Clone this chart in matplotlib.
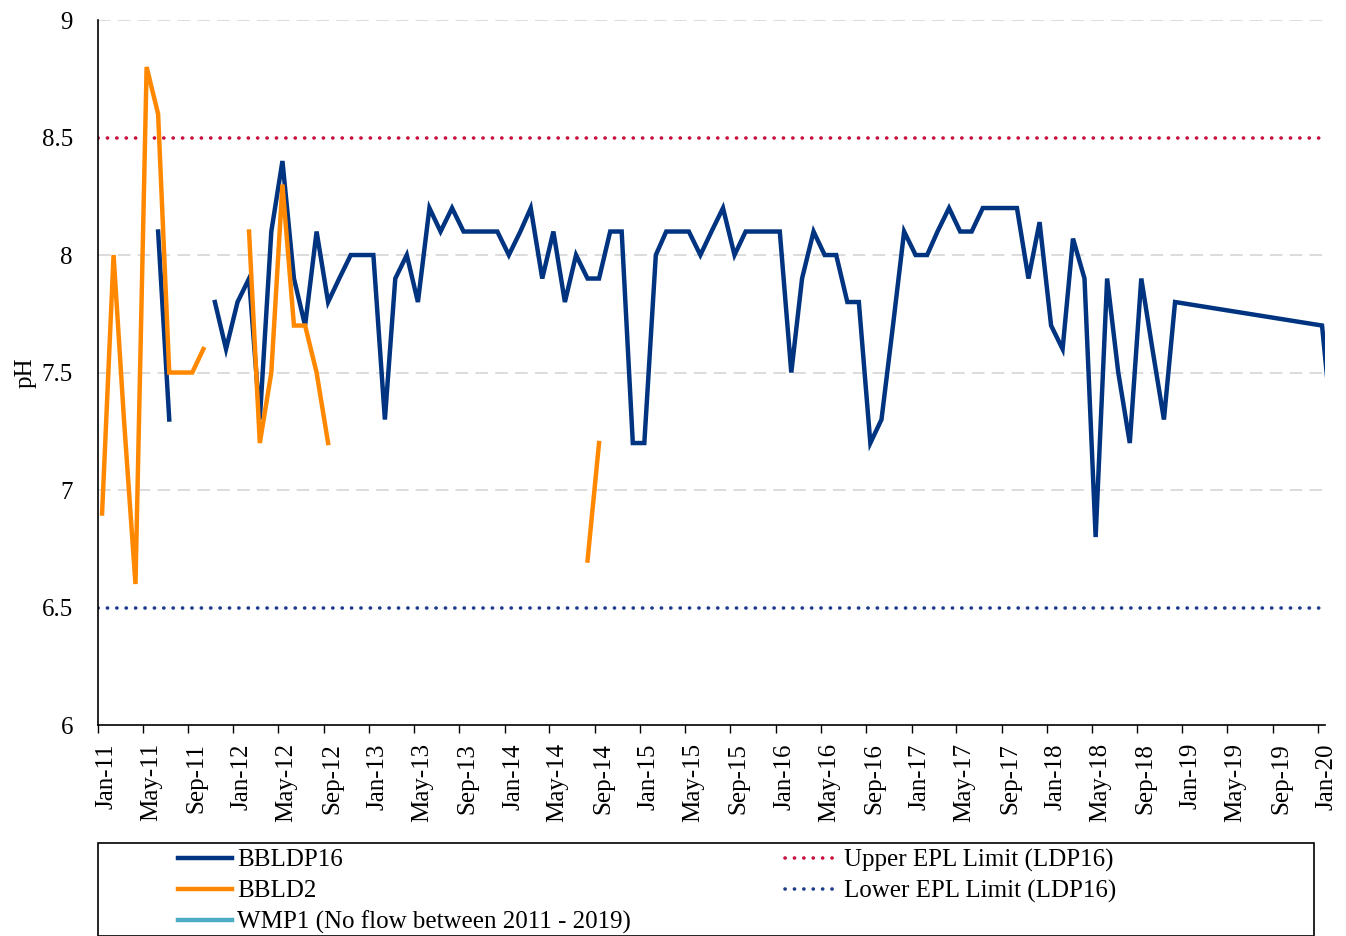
import numpy as np
import pandas as pd
import matplotlib
matplotlib.use("Agg")
import matplotlib.pyplot as plt
import matplotlib.dates as mdates
from matplotlib.patches import Rectangle
from matplotlib.transforms import ScaledTranslation

plt.rcParams['font.family'] = ['Liberation Serif', 'DejaVu Serif']

# monthly pH samples (sampled around the 12th of each month)
bbldp16_months = ['2011-06', '2011-07', '2011-08', '2011-09', '2011-10', '2011-11', '2011-12',
                  '2012-01', '2012-02', '2012-03', '2012-04', '2012-05', '2012-06', '2012-07', '2012-08',
                  '2012-09', '2012-10', '2012-11', '2012-12',
                  '2013-01', '2013-02', '2013-03', '2013-04', '2013-05', '2013-06', '2013-07', '2013-08',
                  '2013-09', '2013-10', '2013-11', '2013-12',
                  '2014-01', '2014-02', '2014-03', '2014-04', '2014-05', '2014-06', '2014-07', '2014-08',
                  '2014-09', '2014-10', '2014-11', '2014-12',
                  '2015-01', '2015-02', '2015-03', '2015-04', '2015-05', '2015-06', '2015-07', '2015-08',
                  '2015-09', '2015-10', '2015-11', '2015-12',
                  '2016-01', '2016-02', '2016-03', '2016-04', '2016-05', '2016-06', '2016-07', '2016-08',
                  '2016-09', '2016-10', '2016-11', '2016-12',
                  '2017-01', '2017-02', '2017-03', '2017-04', '2017-05', '2017-06', '2017-07', '2017-08',
                  '2017-09', '2017-10', '2017-11', '2017-12',
                  '2018-01', '2018-02', '2018-03', '2018-04', '2018-05', '2018-06', '2018-07', '2018-08',
                  '2018-09', '2018-10', '2018-11', '2018-12',
                  '2020-01', '2020-02']
bbldp16_ph = [8.1, 7.3, np.nan, np.nan, np.nan, 7.8, 7.6,
              7.8, 7.9, 7.3, 8.1, 8.4, 7.9, 7.7, 8.1,
              7.8, 7.9, 8.0, 8.0,
              8.0, 7.3, 7.9, 8.0, 7.8, 8.2, 8.1, 8.2,
              8.1, 8.1, 8.1, 8.1,
              8.0, 8.1, 8.2, 7.9, 8.1, 7.8, 8.0, 7.9,
              7.9, 8.1, 8.1, 7.2,
              7.2, 8.0, 8.1, 8.1, 8.1, 8.0, 8.1, 8.2,
              8.0, 8.1, 8.1, 8.1,
              8.1, 7.5, 7.9, 8.1, 8.0, 8.0, 7.8, 7.8,
              7.2, 7.3, 7.7, 8.1,
              8.0, 8.0, 8.1, 8.2, 8.1, 8.1, 8.2, 8.2,
              8.2, 8.2, 7.9, 8.14,
              7.7, 7.6, 8.07, 7.9, 6.8, 7.9, 7.5, 7.2,
              7.9, 7.6, 7.3, 7.8,
              7.7, 7.2]

bbld2_months = ['2011-01', '2011-02', '2011-03', '2011-04', '2011-05', '2011-06', '2011-07', '2011-08',
                '2011-09', '2011-10', '2011-11',
                '2012-02', '2012-03', '2012-04', '2012-05', '2012-06', '2012-07', '2012-08', '2012-09',
                '2012-10',
                '2014-08', '2014-09']
bbld2_ph = [6.9, 8.0, 7.3, 6.6, 8.8, 8.6, 7.5, 7.5,
            7.5, 7.6, np.nan,
            8.1, 7.2, 7.5, 8.3, 7.7, 7.7, 7.5, 7.2,
            np.nan,
            6.7, 7.2]

upper_limit = 8.5
lower_limit = 6.5

c_blue = '#003380'
c_orange = '#FF8800'
c_light = '#4BACC6'
c_red = '#C8103C'
c_navy = '#1F3C8C'

d1 = pd.to_datetime(bbldp16_months) + pd.Timedelta(days=11)
d2 = pd.to_datetime(bbld2_months) + pd.Timedelta(days=11)
xmin = pd.Timestamp('2011-01-01')
xmax = pd.Timestamp('2020-01-20')

fig = plt.figure(figsize=(13.46, 9.36), dpi=100)
ax = fig.add_axes([0.0728, 0.2254, 0.9116, 0.7532])

for v in [7.0, 7.5, 8.0, 9.0]:
    ax.axhline(v, color='#D9D9D9', lw=1.3, ls=(0, (7, 4)), zorder=0)

dots = (0, (0.05, 2.55))
l_up = ax.axhline(upper_limit, color=c_red, lw=2.6, ls=dots, dash_capstyle='round', zorder=1)
l_lo = ax.axhline(lower_limit, color=c_navy, lw=2.6, ls=dots, dash_capstyle='round', zorder=1)

l1, = ax.plot(d1, bbldp16_ph, color=c_blue, lw=3.2, solid_joinstyle='miter', zorder=3)
l2, = ax.plot(d2, bbld2_ph, color=c_orange, lw=3.2, solid_joinstyle='miter', zorder=4)
l3, = ax.plot([], [], color=c_light, lw=3.2)

ax.set_xlim(xmin, xmax)
ax.set_ylim(6, 9)
ax.set_yticks([6, 6.5, 7, 7.5, 8, 8.5, 9])
ax.set_yticklabels(['6', '6.5', '7', '7.5', '8', '8.5', '9'])
ax.xaxis.set_major_locator(mdates.MonthLocator(bymonth=[1, 5, 9]))
ax.xaxis.set_major_formatter(mdates.DateFormatter('%b-%y'))
ax.tick_params(axis='x', labelsize=18, rotation=90, length=6, width=1, direction='out', pad=7)
ax.tick_params(axis='y', labelsize=18, length=0, pad=18)
ax.set_ylabel('pH', fontsize=18, labelpad=4)

# shift rotated labels a little to the right like the original
shift = ScaledTranslation(6 / 72, 0, fig.dpi_scale_trans)
for lab in ax.get_xticklabels():
    lab.set_transform(lab.get_transform() + shift)

for s in ['top', 'right']:
    ax.spines[s].set_visible(False)
for s in ['left', 'bottom']:
    ax.spines[s].set_linewidth(1.2)

# legend box
fig.patches.append(Rectangle((98 / 1346, 0.0), (1314 - 98) / 1346, (936 - 843) / 936,
                             transform=fig.transFigure, fill=False, edgecolor='black', lw=1.2))

leg_kw = dict(frameon=False, fontsize=18, handlelength=2.15, handletextpad=0.2,
              labelspacing=0.33, borderpad=0, borderaxespad=0, loc='upper left')
fig.legend([l1, l2, l3], ['BBLDP16', 'BBLD2', 'WMP1 (No flow between 2011 - 2019)'],
           bbox_to_anchor=(178 / 1346, 1 - 849 / 936), **leg_kw)
fig.legend([l_up, l_lo], ['Upper EPL Limit (LDP16)', 'Lower EPL Limit (LDP16)'],
           bbox_to_anchor=(785 / 1346, 1 - 849 / 936), **leg_kw)

fig.savefig('out.png', dpi=100)
